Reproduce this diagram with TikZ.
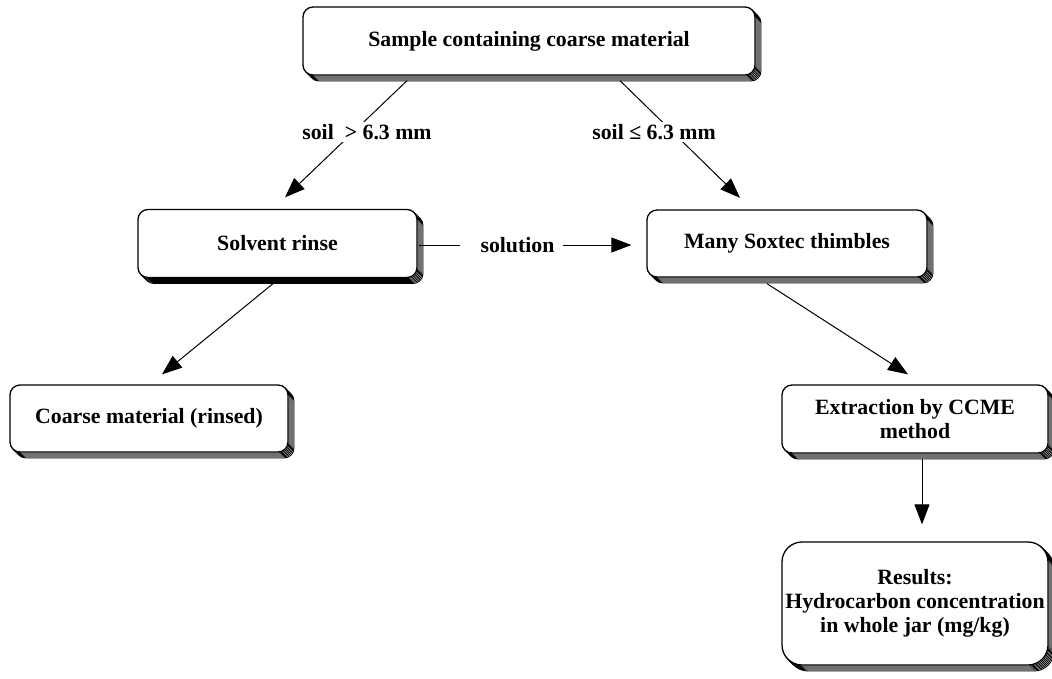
\documentclass[tikz,border=0pt]{standalone}
\usepackage{fontspec}
\setmainfont{Liberation Serif}
\usetikzlibrary{shadows,arrows.meta}
\tikzset{
  sh/.style={general shadow={shadow xshift=#1, shadow yshift=-#1, fill=white, draw=black, line width=0.9pt}},
  box/.style={draw, line width=1.3pt, fill=white, rounded corners=10pt, align=center,
    inner sep=0pt, font=\fontsize{21.8}{24}\selectfont\bfseries,
    sh=6pt, sh=5pt, sh=4pt, sh=3pt, sh=2pt, sh=1pt},
  lbl/.style={fill=white, inner sep=2pt, font=\fontsize{21.8}{24}\selectfont\bfseries},
  conn/.style={line width=1pt},
  arr/.style={line width=1pt, -{Triangle[length=20pt,width=15pt]}}
}
\begin{document}
\begin{tikzpicture}[x=1pt,y=-1pt]
\useasboundingbox[fill=white] (0,0) rectangle (1052,678);
\node[box, minimum width=452pt, minimum height=68pt] (top) at (529,41) {Sample containing coarse material};
\node[box, minimum width=279pt, minimum height=68pt] (solvent) at (277.5,243.5) {Solvent rinse};
\node[box, minimum width=280pt, minimum height=67pt] (many) at (787,243.5) {Many Soxtec thimbles};
\node[box, minimum width=278pt, minimum height=67pt] (coarse) at (149,418.5) {Coarse material (rinsed)};
\node[box, minimum width=266pt, minimum height=68pt] (extract) at (915,419) {Extraction by CCME\\method};
\node[box, rounded corners=20pt, minimum width=266pt, minimum height=123pt] (results) at (915,603.5) {Results:\\Hydrocarbon concentration\\in whole jar (mg/kg)};

\draw[arr] ([xshift=-122pt,yshift=-5pt]top.south) -- ([xshift=7.5pt,yshift=11.5pt]solvent.north);
\draw[arr] ([xshift=91pt,yshift=-5pt]top.south) -- ([xshift=-47pt,yshift=11.5pt]many.north);
\node[lbl] (lgt) at (367,132) {soil\ \ > 6.3 mm};
\node[lbl] (lle) at (654,132) {soil ≤ 6.3 mm};

\node[lbl, inner xsep=0pt] (sol) at (517.5,245) {solution};
\draw[conn] ([xshift=1pt]solvent.east |- sol) -- ([xshift=-20pt]sol.west);
\draw[arr] ([xshift=8pt]sol.east) -- ([xshift=-15pt]many.west |- sol);

\draw[arr] ([xshift=-4.5pt,yshift=-5.5pt]solvent.south) -- ([xshift=13pt,yshift=10pt]coarse.north);
\draw[arr] ([xshift=-20pt,yshift=-6pt]many.south) -- ([xshift=-7pt,yshift=10pt]extract.north);
\draw[arr] ([xshift=7pt,yshift=-5pt]extract.south) -- ([xshift=7pt,yshift=17pt]results.north);
\end{tikzpicture}
\end{document}
